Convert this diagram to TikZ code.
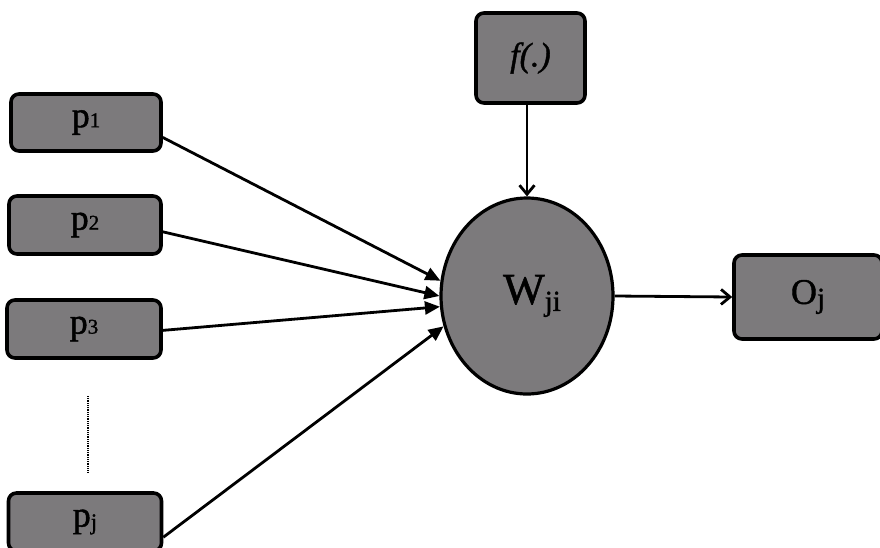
\documentclass[tikz,border=0pt]{standalone}
\usepackage{fontspec}
\setmainfont{Liberation Serif}[FakeBold=1.2]
\usetikzlibrary{shapes.geometric,arrows.meta}
\definecolor{boxgray}{RGB}{124,122,124}
\tikzset{
  inbox/.style={draw=black, line width=3.6pt, fill=boxgray, rounded corners=8pt, inner sep=0pt, font=\fontsize{36}{38}\selectfont},
  cell/.style={draw=black, line width=3.2pt, fill=boxgray, ellipse, inner sep=0pt, font=\fontsize{44}{46}\selectfont},
  inarrow/.style={line width=2.8pt, -{Triangle[length=15pt,width=13pt]}},
  outarrow/.style={line width=2.8pt, -{Straight Barb[length=9pt,width=15pt,line width=2.8pt]}},
}
\begin{document}
\begin{tikzpicture}[x=1pt,y=-1pt]
\useasboundingbox (0,0) rectangle (880,547);
\clip (0,0) rectangle (880,547);
\node[inbox, minimum width=150pt, minimum height=57pt] (p1) at (86,122.5) {\raisebox{-2pt}{p\fontsize{21}{21}\selectfont 1}};
\node[inbox, minimum width=152pt, minimum height=58pt] (p2) at (85,225) {\raisebox{-2pt}{p\fontsize{21}{21}\selectfont 2}};
\node[inbox, minimum width=154pt, minimum height=58pt] (p3) at (84,329) {\raisebox{-2pt}{p\fontsize{21}{21}\selectfont 3}};
\node[inbox, minimum width=153pt, minimum height=58pt] (pj) at (85,522) {\raisebox{-4pt}{p\raisebox{-3pt}{\fontsize{23}{23}\selectfont j}}};
\node[inbox, minimum width=109pt, minimum height=90pt] (f) at (530.5,58) {\raisebox{6pt}{\fontsize{34}{36}\selectfont\itshape f(.)}};
\node[cell, minimum width=172pt, minimum height=196pt] (w) at (527,296) {\hspace{10pt}W\raisebox{-7pt}{\fontsize{29}{29}\selectfont ji}};
\node[inbox, minimum width=148pt, minimum height=84pt] (o) at (808,297) {O\raisebox{-4pt}{\fontsize{29}{29}\selectfont j}};
\coordinate (dtop) at (88,396);
\coordinate (dbot) at (88,473);
\draw[line width=2pt, dash pattern=on 1pt off 0.8pt] (dtop) -- (dbot);
\draw[inarrow] (p1.-11) -- (w.170);
\draw[inarrow] (p2.-5) -- (w.180);
\draw[inarrow] (p3.-1.5) -- (w.187);
\draw[inarrow] (pj.-11) -- (w.200);
\draw[outarrow] (w.north |- f.south) -- (w.north);
\draw[outarrow] (w.east) -- (o.west);
\end{tikzpicture}
\end{document}
